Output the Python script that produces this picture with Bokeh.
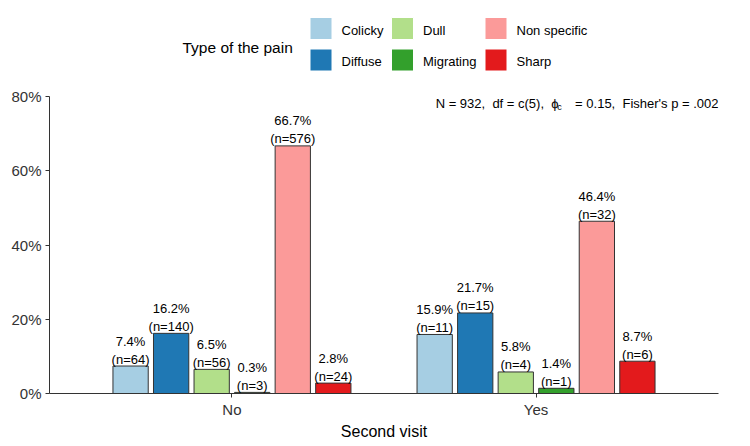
from bokeh.plotting import figure
from bokeh.models import Range1d, FixedTicker, Label, ColumnDataSource
from bokeh.layouts import column
from bokeh.core.properties import value
from bokeh.embed import file_html
from bokeh.resources import INLINE

FONT = "Liberation Sans"
NB = "\u00a0"

groups = ["No", "Yes"]
pain_types = ["Colicky", "Diffuse", "Dull", "Migrating", "Non specific", "Sharp"]
colors = ["#A6CEE3", "#1F78B4", "#B2DF8A", "#33A02C", "#FB9A99", "#E31A1C"]
pct_no = [7.4, 16.2, 6.5, 0.3, 66.7, 2.8]
n_no = [64, 140, 56, 3, 576, 24]
pct_yes = [15.9, 21.7, 5.8, 1.4, 46.4, 8.7]
n_yes = [11, 15, 4, 1, 32, 6]
y_ticks = [0, 20, 40, 60, 80]
y_tick_labels = ["0%", "20%", "40%", "60%", "80%"]
x_title = "Second visit"
legend_title = "Type of the pain"
stats_a = f"N{NB}={NB}932,{NB}{NB}df{NB}={NB}c(5),{NB}{NB}\u03d5"
stats_sub = "c"
stats_b = f"={NB}0.15,{NB}{NB}Fisher's{NB}p{NB}={NB}.002"

BL, BR = 49, 32  # shared side borders (frames of the column are aligned)

# ---------- legend figure ----------
leg = figure(width=750, height=80, x_range=Range1d(BL, 750 - BR), y_range=Range1d(80, 0),
             output_backend="svg", toolbar_location=None,
             min_border_left=BL, min_border_right=BR, min_border_top=0, min_border_bottom=0)
leg.axis.visible = False
leg.grid.visible = False
leg.outline_line_color = None
col_x = [320.5, 402, 495.5]
row_y = [28, 59.5]
lx = [col_x[i // 2] for i in range(len(pain_types))]
ly = [row_y[i % 2] for i in range(len(pain_types))]
lsrc = ColumnDataSource(dict(x=lx, y=ly, tx=[v + 20.5 for v in lx], ty=[v + 1.5 for v in ly],
                             label=pain_types, color=colors))
leg.rect(x="x", y="y", width=22, height=22, fill_color="color", line_color="white",
         line_width=1, source=lsrc)
leg.text(x="tx", y="ty", text="label", text_font=value(FONT), text_font_size="13px",
         text_font_style="normal", text_baseline="middle", text_align="left",
         text_color="black", source=lsrc)
leg.text(x=[182], y=[47], text=[legend_title], text_font=value(FONT), text_font_size="15.5px",
         text_font_style="normal", text_baseline="middle", text_align="left", text_color="black")

# ---------- main figure ----------
p = figure(width=750, height=366, x_range=Range1d(0.4, 2.6), y_range=Range1d(0, 80),
           output_backend="svg", toolbar_location=None,
           min_border_left=BL, min_border_right=BR, min_border_top=16, min_border_bottom=53)
p.grid.visible = False
p.outline_line_color = None

slot = 0.8 / len(pain_types)
bw = slot * 0.87
xs, tops, fills, pct_lbl, n_lbl = [], [], [], [], []
for gi, (pcts, ns) in enumerate([(pct_no, n_no), (pct_yes, n_yes)]):
    for i in range(len(pain_types)):
        xs.append(gi + 1 + (i - (len(pain_types) - 1) / 2) * slot)
        tops.append(pcts[i])
        fills.append(colors[i])
        pct_lbl.append(f"{pcts[i]:.1f}%")
        n_lbl.append(f"(n={ns[i]})")
src = ColumnDataSource(dict(x=xs, top=tops, fill=fills, pct=pct_lbl, n=n_lbl))
p.vbar(x="x", top="top", bottom=0, width=bw, fill_color="fill", line_color="#333333",
       line_width=1, source=src)
p.text(x="x", y="top", text="pct", text_font=value(FONT), text_font_size="13px",
       text_align="center", text_baseline="middle", y_offset=-25, text_color="black", source=src)
p.text(x="x", y="top", text="n", text_font=value(FONT), text_font_size="13px",
       text_align="center", text_baseline="middle", y_offset=-7, text_color="black", source=src)

# axes
p.xaxis.ticker = FixedTicker(ticks=[1, 2])
p.xaxis.major_label_overrides = {i + 1: g for i, g in enumerate(groups)}
p.yaxis.ticker = FixedTicker(ticks=y_ticks)
p.yaxis.major_label_overrides = {t: l for t, l in zip(y_ticks, y_tick_labels)}
for ax in (p.xaxis, p.yaxis):
    ax.axis_line_color = "#333333"
    ax.axis_line_width = 1
    ax.major_tick_line_color = "#333333"
    ax.major_tick_out = 4
    ax.major_tick_in = 0
    ax.minor_tick_line_color = None
    ax.major_label_text_font = FONT
    ax.major_label_text_font_size = "15px"
    ax.major_label_text_color = "#333333"
p.yaxis.major_label_standoff = 4
p.xaxis.major_label_standoff = 3
p.xaxis.axis_label = x_title
p.xaxis.axis_label_text_font = FONT
p.xaxis.axis_label_text_font_size = "16px"
p.xaxis.axis_label_text_font_style = "normal"
p.xaxis.axis_label_text_color = "black"
p.xaxis.axis_label_standoff = 2

# statistics annotation
p.add_layout(Label(x=2.074, y=78.1, text=stats_a, text_align="right", text_baseline="middle",
                   text_font=FONT, text_font_size="13px", text_color="black"))
p.add_layout(Label(x=2.07, y=78.1, y_offset=-3, text=stats_sub, text_align="left",
                   text_baseline="middle", text_font=FONT, text_font_size="9px", text_color="black"))
p.add_layout(Label(x=2.6, y=78.1, text=stats_b, text_align="right", text_baseline="middle",
                   text_font=FONT, text_font_size="13px", text_color="black"))

layout = column(leg, p, spacing=0)
open("out.html", "w").write(file_html(layout, INLINE))
